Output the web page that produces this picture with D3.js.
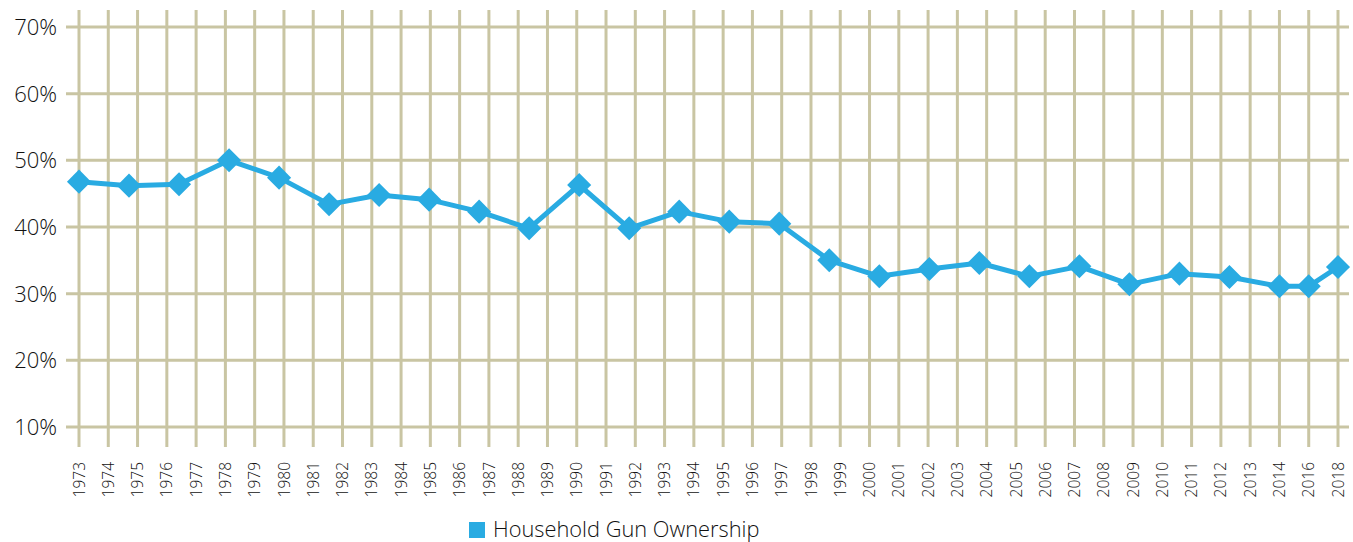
<!DOCTYPE html>
<html>
<head>
<meta charset="utf-8">
<script src="https://cdn.jsdelivr.net/npm/d3@7"></script>
<style>
  body { margin: 0; background: #fff; }
  svg { display: block; font-family: "Open Sans", sans-serif; font-weight: 300; }
</style>
</head>
<body>
<svg id="chart" width="1353" height="542"></svg>
<script>
// tick labels along the bottom (note the jump after 2014)
var year_labels = ["1973","1974","1975","1976","1977","1978","1979","1980","1981","1982",
  "1983","1984","1985","1986","1987","1988","1989","1990","1991","1992","1993","1994",
  "1995","1996","1997","1998","1999","2000","2001","2002","2003","2004","2005","2006",
  "2007","2008","2009","2010","2011","2012","2013","2014","2016","2018"];

var pct_ticks = [10, 20, 30, 40, 50, 60, 70];

// household gun ownership, percent (one value per survey point)
var ownership = [46.8, 46.2, 46.4, 50.0, 47.4, 43.4, 44.8, 44.1, 42.3, 39.8,
  46.3, 39.8, 42.3, 40.8, 40.5, 35.0, 32.6, 33.7, 34.6, 32.6,
  34.1, 31.4, 33.0, 32.5, 31.1, 31.1, 34.0];

var series_name = "Household Gun Ownership";

var grid_color = "#c9c5a3";
var line_color = "#29abe2";
var text_color = "#111";

var svg = d3.select("#chart");

var x = d3.scalePoint()
  .domain(year_labels)
  .range([79, 1338]);

var y = d3.scaleLinear()
  .domain([10, 70])
  .range([427, 27]);

// survey points are spread evenly up to 2014, then sit on 2016 and 2018
var last = ownership.length - 1;
var px = d3.scaleLinear()
  .domain([0, last - 2, last])
  .range([x("1973"), x("2014"), x("2018")]);

// vertical grid
svg.append("g")
  .selectAll("line")
  .data(year_labels)
  .enter().append("line")
  .attr("x1", function(d){ return x(d); })
  .attr("x2", function(d){ return x(d); })
  .attr("y1", 10)
  .attr("y2", 447)
  .attr("stroke", grid_color)
  .attr("stroke-width", 3);

// horizontal grid
svg.append("g")
  .selectAll("line")
  .data(pct_ticks)
  .enter().append("line")
  .attr("x1", 66)
  .attr("x2", 1349)
  .attr("y1", function(d){ return y(d); })
  .attr("y2", function(d){ return y(d); })
  .attr("stroke", grid_color)
  .attr("stroke-width", 3);

// y labels
svg.append("g")
  .selectAll("text")
  .data(pct_ticks)
  .enter().append("text")
  .attr("x", 57)
  .attr("y", function(d){ return y(d); })
  .attr("dy", "0.36em")
  .attr("text-anchor", "end")
  .attr("font-size", 22)
  .attr("fill", text_color)
  .text(function(d){ return d + "%"; });

// x labels, rotated
svg.append("g")
  .selectAll("text")
  .data(year_labels)
  .enter().append("text")
  .attr("transform", function(d){ return "translate(" + x(d) + ",462) rotate(-90)"; })
  .attr("dy", "0.36em")
  .attr("text-anchor", "end")
  .attr("font-size", 15.5)
  .attr("fill", text_color)
  .text(function(d){ return d; });

// the line
var line = d3.line()
  .x(function(d, i){ return px(i); })
  .y(function(d){ return y(d); });

svg.append("path")
  .datum(ownership)
  .attr("d", line)
  .attr("fill", "none")
  .attr("stroke", line_color)
  .attr("stroke-width", 5)
  .attr("stroke-linejoin", "round");

// diamond markers
var diamond = d3.symbol().type(d3.symbolSquare).size(290);
svg.append("g")
  .selectAll("path")
  .data(ownership)
  .enter().append("path")
  .attr("d", diamond)
  .attr("transform", function(d, i){ return "translate(" + px(i) + "," + y(d) + ") rotate(45)"; })
  .attr("fill", line_color);

// legend
var legend = svg.append("g");
legend.append("rect")
  .attr("x", 469)
  .attr("y", 522)
  .attr("width", 16)
  .attr("height", 16)
  .attr("fill", line_color);
legend.append("text")
  .attr("x", 493)
  .attr("y", 537)
  .attr("font-size", 21.8)
  .attr("fill", text_color)
  .text(series_name);
</script>
</body>
</html>
